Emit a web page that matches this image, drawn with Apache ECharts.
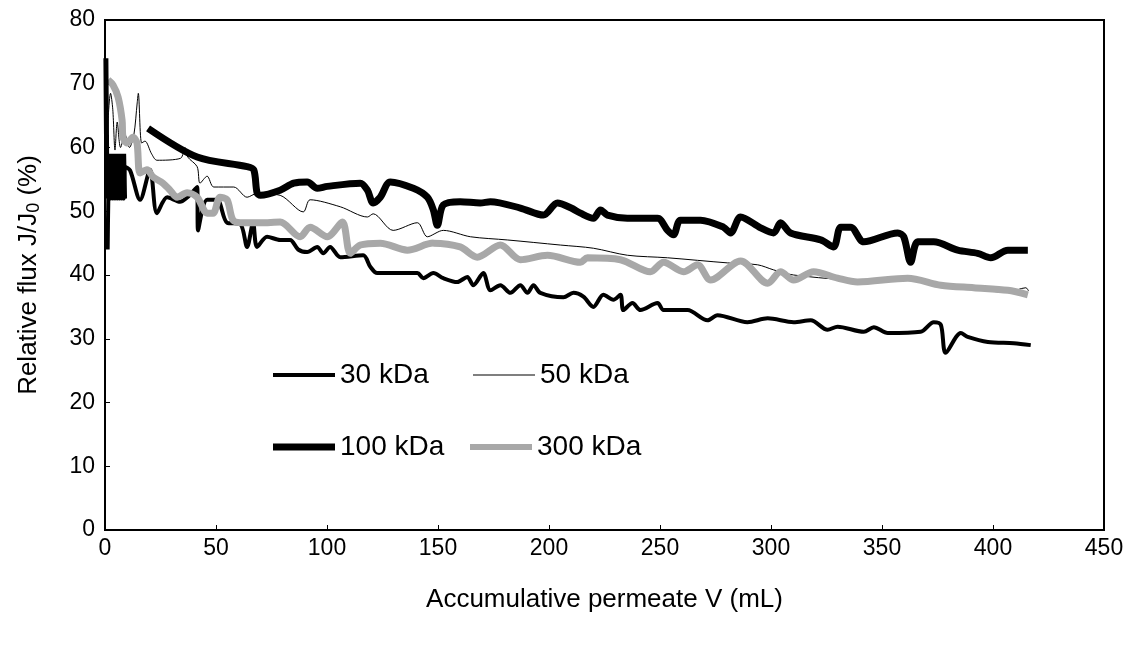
<!DOCTYPE html>
<html>
<head>
<meta charset="utf-8">
<script src="https://cdn.jsdelivr.net/npm/echarts@6/dist/echarts.min.js"></script>
<style>
html,body{margin:0;padding:0;background:#fff;}
#chart{width:1136px;height:646px;}
</style>
</head>
<body>
<div id="chart"></div>
<script>
// ---- data: [accumulative permeate V (mL), relative flux J/J0 (%)] ----
const seriesNames = ['30 kDa', '50 kDa', '100 kDa', '300 kDa'];
const xTicks = [0, 450, 50];   // min, max, interval
const yTicks = [0, 80, 10];

const s30 = [[1.2,44],[1.5,52],[2,58],[2.5,52],[3,58],[3.5,52],[4,58],[4.5,52],[5,58],[5.5,52],[6,58],[6.5,52],[7,58],[7.5,52],[8,58],[8.5,52],[9,57],
  [11.3,56.4],[15.8,51.8],[20.3,56.5],[23.4,49.7],[28,52.2],[33.8,51.5],[41.5,53.8],[41.9,47],[46,51.8],[50.5,51.8],[55,48.2],[60.9,48],[64,44.4],
  [66.7,48.2],[68.5,44.4],[73,46],[78.9,45.5],[83.4,45.5],[87,44],[91.1,43.6],[95.6,44.4],[98.3,43.4],[101.4,44.4],[106,42.8],[116.3,43.1],
  [119.5,41.3],[122.6,40.3],[140.7,40.3],[143.4,39.5],[147.9,40.3],[152.4,39.5],[158.7,38.9],[163.2,39.7],[165.9,38.4],[170.4,40.3],[173.6,37.6],
  [178.1,38.4],[182.6,37.2],[187.1,38.4],[190.3,37.2],[193,38.4],[196.1,37.2],[206.5,36.5],[211,37.2],[215.5,36.6],[220,35],[224.5,36.9],[229,36.1],
  [232.2,36.9],[233.5,34.5],[237.6,35.6],[241.2,34.5],[248.9,35.6],[251.6,34.5],[262.4,34.5],[271.4,32.9],[275.9,33.7],[289.4,32.6],[298.5,33.2],
  [310.2,32.6],[317.9,32.9],[325.5,31.4],[330,31.9],[341.8,31.1],[346.3,31.8],[352.6,30.9],[367.4,31.1],[373.3,32.6],[376.5,32.2],[378.7,27.8],
  [385.5,30.9],[388.6,30.3],[397.7,29.5],[409.4,29.3],[417,29]];

const s50 = [[0.8,58],[1.5,65],[2.5,68.5],[3.5,66],[4.5,59.6],[5.5,64],[7,60],[9,62],[11,60],[13,62],[14.5,67],[15,68.5],[16.5,60.7],[18,61],
  [21,59],[23.4,58],[34,58.3],[36,60],[37.3,58.5],[41.5,57],[42.8,54.4],[46,55.5],[49,53.8],[58,53.8],[64,52.2],[68.5,52.8],[78.9,52.5],[89.3,49.9],
  [92.4,51.8],[106,50.7],[118.2,49.1],[120.8,49.6],[129.8,47],[140.7,48.2],[145.2,46],[152.4,47],[164.6,46],[181.2,45.5],[205.1,44.7],[220,44.2],
  [235.3,43.1],[253.4,42.7],[280.4,41.9],[294,41.6],[301.2,40.8],[310.2,40],[340.4,39.2],[362.9,39.7],[376.5,38.7],[406.7,37.3],[414.8,38],[416,37.5]];

const s100Start = [[0.4,74],[0.8,56],[1.2,59],[1.6,52],[2,59],[2.4,52],[2.8,59],[3.2,52],[3.6,59],[4,52],[4.4,59],[4.8,52],[5.2,59],[5.6,52],
  [6,59],[6.4,52],[6.8,59],[7.2,52],[7.6,59],[8,52],[8.4,59],[8.8,52]];

const s100 = [[19.4,63],[41.5,58.5],[64,57],[67,56.5],[68.5,52.9],[70,52.5],[78.9,53.3],[85,54.4],[91.1,54.6],[95.6,53.6],[100.1,53.9],[115,54.4],
  [118.2,53.3],[120.8,51.3],[124,52.2],[128.5,54.6],[138.9,53.6],[145.2,52.2],[147.9,50.2],[149.7,47.8],[152.4,51],[160,51.5],[169,51.3],[173.6,51.5],
  [187.1,50.5],[197.5,49.4],[203.8,51.3],[210,50.5],[214.2,49.7],[220,48.9],[223.2,50.2],[226.3,49.4],[235.3,48.9],[248.9,48.9],[253.4,47],[256.1,46.3],
  [259.2,48.6],[268.3,48.6],[278.6,47.5],[281.8,46.6],[286.3,49.1],[295.3,47.4],[301.2,46.6],[304.3,48.2],[308.8,46.6],[322.4,45.5],[328.2,44.4],
  [331.4,47.5],[335.9,47.5],[341.8,45.2],[357.1,46.6],[359.8,46],[362.9,42],[366.1,45.2],[373.3,45.2],[384.1,43.9],[393.1,43.4],[399,42.7],
  [406.7,43.9],[415.7,43.9]];

const s300 = [[1.4,70.6],[3.6,69.8],[5.9,67.9],[7.7,64.3],[8.1,61.6],[9.9,60.7],[12.6,61.6],[14.4,60.7],[15.8,56],[18.9,56.5],[21.6,55.4],[26.1,54.4],
  [29.3,53.3],[32.5,52.2],[37,52.9],[41.5,52.2],[46,49.7],[48.7,49.7],[51.8,52.2],[55,51.8],[57.7,48.6],[62.2,48.2],[70,48.2],[78.9,48.3],[87.9,46],
  [92.4,47.5],[100.1,46],[106.9,48.3],[110.5,43.4],[115,44.7],[124,45],[136.2,43.9],[147.9,45],[160,44.4],[167.7,42.8],[178.1,44.7],[187.1,42.4],
  [199.3,43.1],[214.2,42],[217.3,42.7],[232.2,42.4],[245.7,40.5],[251.6,42],[260.6,40.5],[266.9,41.6],[272.8,39.2],[286.3,42.2],[298.5,38.7],
  [304.3,40.5],[310.2,39.2],[319.2,40.5],[330,39.5],[339,38.9],[361.6,39.5],[376.5,38.4],[391.3,38],[406.7,37.6],[415.7,36.9]];

const FONT = 'Liberation Sans, Arial, sans-serif';
const chart = echarts.init(document.getElementById('chart'), null, {renderer: 'canvas'});

function legendAt(name, left, top, thick) {
  return {
    data: [name], left: left, top: top, itemWidth: 62, itemHeight: thick, itemGap: 0,
    icon: 'rect',
    textStyle: {fontFamily: FONT, fontSize: 28, color: '#000'},
    selectedMode: false
  };
}

const lineBase = {type: 'line', showSymbol: false, symbol: 'none', smooth: 0.3, animation: false};

chart.setOption({
  animation: false,
  backgroundColor: '#fff',
  grid: {left: 105, right: 32, top: 20, bottom: 116, show: true, borderColor: '#000', borderWidth: 2},
  legend: [
    legendAt(seriesNames[0], 268, 356, 4),
    legendAt(seriesNames[1], 468, 356, 1),
    legendAt(seriesNames[2], 268, 428, 7),
    legendAt(seriesNames[3], 465, 428, 6)
  ],
  xAxis: {
    type: 'value', min: xTicks[0], max: xTicks[1], interval: xTicks[2],
    name: 'Accumulative permeate V (mL)', nameLocation: 'middle', nameGap: 57,
    nameTextStyle: {fontFamily: FONT, fontSize: 26, color: '#000'},
    axisLine: {lineStyle: {color: '#000', width: 2}},
    axisTick: {inside: true, length: 5, lineStyle: {color: '#000'}},
    axisLabel: {fontFamily: FONT, fontSize: 23, color: '#000', margin: 7},
    splitLine: {show: false}
  },
  yAxis: {
    type: 'value', min: yTicks[0], max: yTicks[1], interval: yTicks[2],
    name: 'Relative flux J/J{s|0} (%)', nameLocation: 'middle', nameGap: 62, nameRotate: 90,
    nameTextStyle: {fontFamily: FONT, fontSize: 26, color: '#000',
      rich: {s: {fontFamily: FONT, fontSize: 18, color: '#000', verticalAlign: 'bottom', padding: [10, 0, 0, 0]}}},
    axisLine: {show: true, lineStyle: {color: '#000', width: 2}},
    axisTick: {show: true, inside: true, length: 5, lineStyle: {color: '#000'}},
    axisLabel: {fontFamily: FONT, fontSize: 23, color: '#000', margin: 10},
    splitLine: {show: false}
  },
  series: [
    Object.assign({}, lineBase, {name: seriesNames[1], data: s50, lineStyle: {color: '#000', width: 1}, itemStyle: {color: '#000'}}),
    Object.assign({}, lineBase, {name: seriesNames[0], data: s30, lineStyle: {color: '#000', width: 4}, itemStyle: {color: '#000'}}),
    Object.assign({}, lineBase, {name: seriesNames[3], data: s300, lineStyle: {color: '#a8a8a8', width: 7}, itemStyle: {color: '#a8a8a8'}}),
    Object.assign({}, lineBase, {name: seriesNames[2], data: s100Start, smooth: false, lineStyle: {color: '#000', width: 5}, itemStyle: {color: '#000'}}),
    Object.assign({}, lineBase, {name: seriesNames[2], data: s100, lineStyle: {color: '#000', width: 7}, itemStyle: {color: '#000'}})
  ]
});
</script>
</body>
</html>
